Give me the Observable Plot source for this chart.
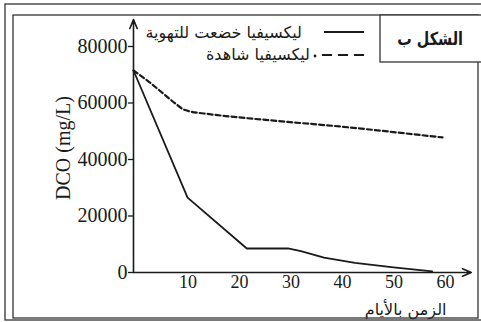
<!DOCTYPE html>
<html><head><meta charset="utf-8">
<script src="https://cdn.jsdelivr.net/npm/d3@7"></script>
<script src="https://cdn.jsdelivr.net/npm/@observablehq/plot@0.6"></script>
<style>
html,body{margin:0;padding:0;background:#fff;}
#wrap{position:relative;width:481px;height:322px;overflow:hidden;}
#over{position:absolute;left:0;top:0;pointer-events:none;}
</style></head>
<body><div id="wrap"></div>
<script>
// Data
const aeratedDays = [0, 10.5, 22, 30, 32.5, 37, 43, 50.5, 58];
const aeratedDCO  = [71500, 26500, 8500, 8500, 7600, 5300, 3400, 1800, 400];
const controlDays = [0, 3, 6, 8, 10, 15, 20, 30, 40, 50, 60];
const controlDCO  = [71500, 67500, 63000, 60000, 57500, 56000, 55000, 53300, 51700, 49800, 47800];
const xTicks = [10, 20, 30, 40, 50, 60];
const yTicks = [0, 20000, 40000, 60000, 80000];
const labels = {
  y: "DCO (mg/L)",
  x: "الزمن بالأيام",
  aerated: "ليكسيفيا خضعت للتهوية",
  control: "ليكسيفيا شاهدة",
  title: "الشكل ب"
};
const axisEnds = {x: 65.6, y: 89500};

const aerated = aeratedDays.map((d,i)=>({day:d, dco:aeratedDCO[i]}));
const control = controlDays.map((d,i)=>({day:d, dco:controlDCO[i]}));
const arrows = [
  {x1:0, y1:0, x2:0, y2:axisEnds.y},
  {x1:0, y1:0, x2:axisEnds.x, y2:0}
];

const ink = "#1a1a1a";
const chart = Plot.plot({
  width: 481, height: 322,
  marginLeft: 133, marginRight: 39, marginTop: 46, marginBottom: 50,
  style: {fontFamily: "'Liberation Serif', serif", fontSize: "18px", color: ink, background: "transparent"},
  x: {domain: [0, 60], axis: null},
  y: {domain: [0, 80000], axis: null},
  marks: [
    Plot.axisY({ticks: yTicks, tickSize: 5, tickPadding: 1, tickFormat: d => String(d), label: null, stroke: ink, strokeWidth: 1.3, fontSize: 20}),
    Plot.axisX({ticks: xTicks, tickSize: 0, tickPadding: 3, dx: 3, tickFormat: d => String(d), label: null, fontSize: 18}),
    Plot.arrow(arrows, {x1:"x1", y1:"y1", x2:"x2", y2:"y2", stroke: ink, strokeWidth: 1.6, headLength: 9, headAngle: 45, inset: 0}),
    Plot.line(control, {x:"day", y:"dco", stroke: ink, strokeWidth: 2.2, strokeDasharray: "5,3", curve: "monotone-x"}),
    Plot.line(aerated, {x:"day", y:"dco", stroke: ink, strokeWidth: 1.8, curve: "linear"}),
    Plot.text([labels.x], {frameAnchor: "bottom-right", text: d => d, dx: 4, dy: 42, fontSize: 16, fontFamily: "'DejaVu Sans', sans-serif", textAnchor: "end", fill: ink})
  ]
});
const wrap = document.getElementById("wrap");
wrap.appendChild(chart);

// Overlay: frame, y label and legend
const svg = d3.select(wrap).append("svg").attr("id","over").attr("width",481).attr("height",322);
svg.append("rect").attr("x",5).attr("y",4).attr("width",490).attr("height",316).attr("fill","none").attr("stroke","#333").attr("stroke-width",1.3);
svg.append("rect").attr("x",13).attr("y",15).attr("width",465).attr("height",303).attr("fill","none").attr("stroke","#333").attr("stroke-width",1.3);
svg.append("text").attr("transform","translate(70,148) rotate(-90)").attr("text-anchor","middle")
  .attr("font-family","'Liberation Serif', serif").attr("font-size",20).attr("fill",ink).text(labels.y);
// title box
svg.append("rect").attr("x",380).attr("y",15).attr("width",110).attr("height",47).attr("fill","#fff").attr("stroke","#333").attr("stroke-width",1.3);
svg.append("g").attr("transform","translate(463,45) scale(0.8,1)")
  .append("text").attr("x",0).attr("y",0).attr("text-anchor","end").attr("font-family","'DejaVu Sans', sans-serif").attr("font-weight","bold").attr("font-size",18).attr("fill",ink).text(labels.title);
// legend
svg.append("line").attr("x1",324).attr("x2",364).attr("y1",32).attr("y2",32).attr("stroke",ink).attr("stroke-width",1.8);
svg.append("text").attr("x",302).attr("y",38).attr("text-anchor","end").attr("font-family","'DejaVu Sans', sans-serif").attr("font-size",16).attr("fill",ink).text(labels.aerated);
svg.append("line").attr("x1",322).attr("x2",365).attr("y1",55).attr("y2",55).attr("stroke",ink).attr("stroke-width",2).attr("stroke-dasharray","10,6");
svg.append("circle").attr("cx",315).attr("cy",56).attr("r",1.4).attr("fill",ink);
svg.append("text").attr("x",310).attr("y",60).attr("text-anchor","end").attr("font-family","'DejaVu Sans', sans-serif").attr("font-size",16).attr("fill",ink).text(labels.control);
</script></body></html>
